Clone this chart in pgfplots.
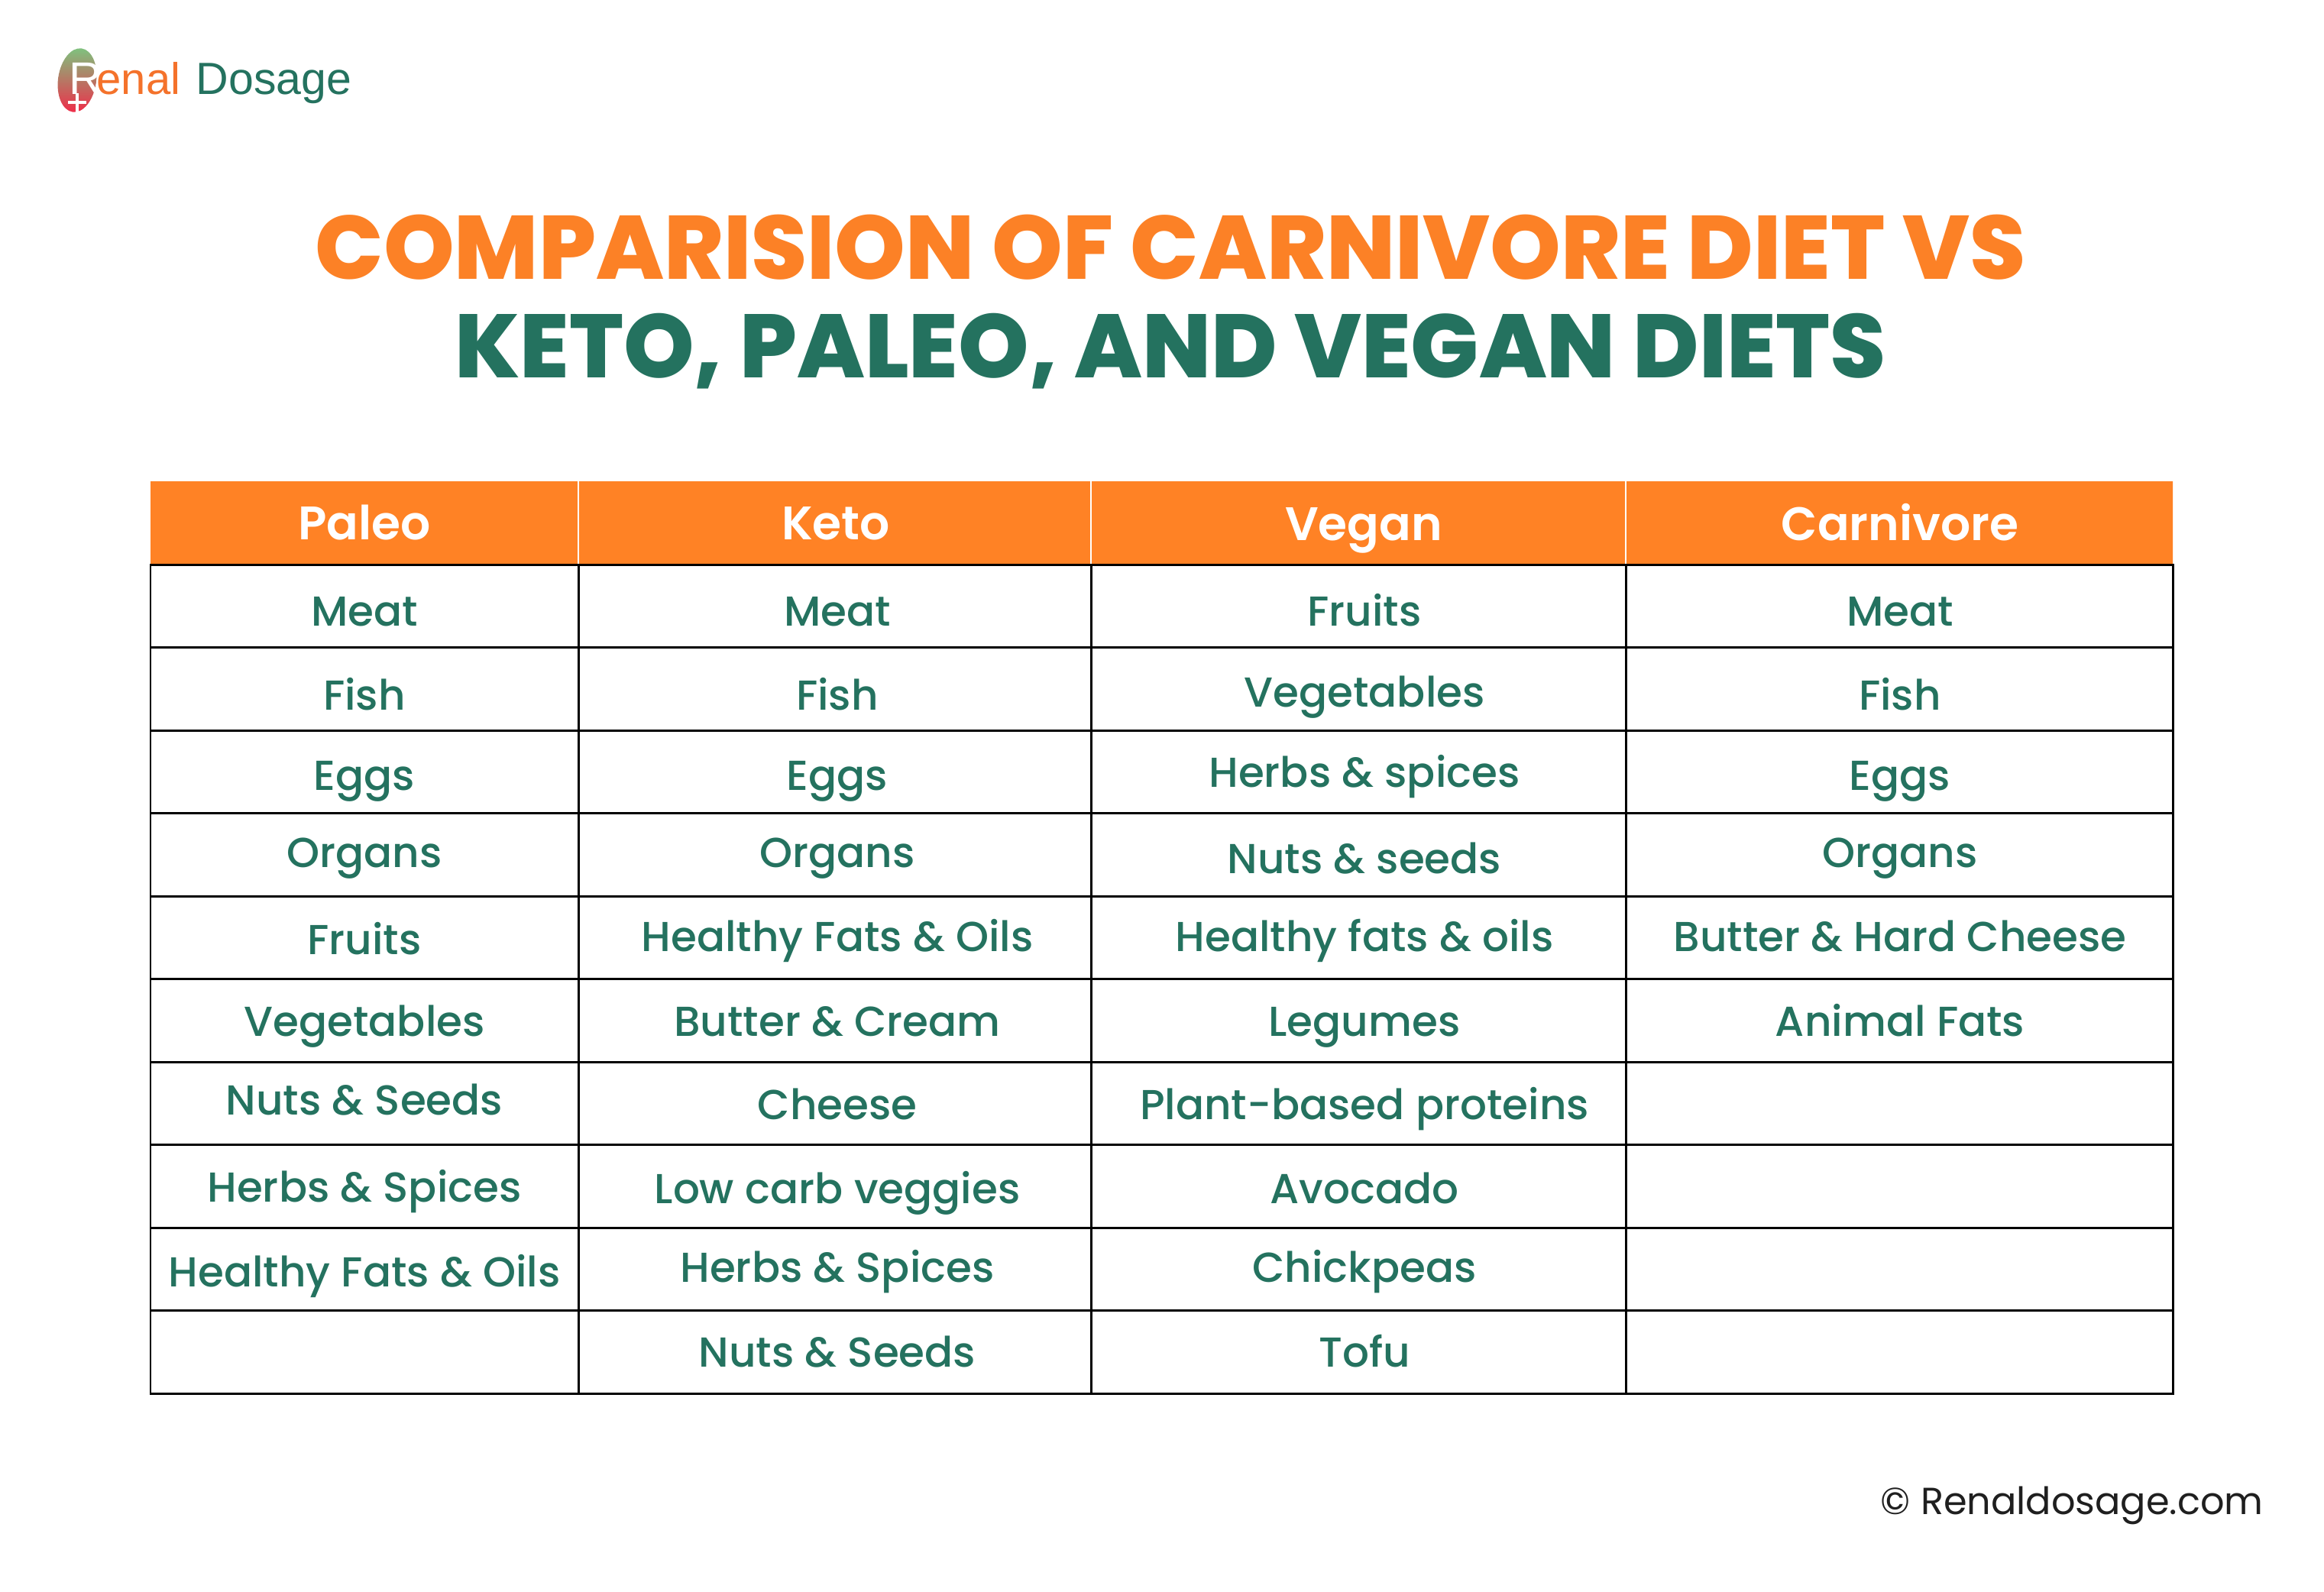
\documentclass[border=0pt]{standalone}
\usepackage{pgfplots}
\pgfplotsset{compat=1.18}
\usepackage{fontspec}
\setmainfont{Poppins}
\newfontfamily\bodyfont{Poppins Medium}
\newfontfamily\headfont{Poppins SemiBold}
\newfontfamily\titlefont{Poppins ExtraBold}
\newfontfamily\logofont{Liberation Sans}
\definecolor{dgreen}{HTML}{24725F}
\definecolor{dorange}{HTML}{FF8225}
\definecolor{torange}{HTML}{FC8126}
\definecolor{lgreen}{HTML}{7DC47F}
\definecolor{lorange}{HTML}{F7901E}
\definecolor{lred}{HTML}{EE2E4A}
\begin{document}
\begin{tikzpicture}
\begin{axis}[width=30.42cm,height=20.84cm,scale only axis,
  xmin=0,xmax=3042,ymin=0,ymax=2084,y dir=reverse,
  hide axis, clip=false, unbounded coords=jump]
\fill[white] (rel axis cs:0,0) rectangle (rel axis cs:1,1);
% header band
\addplot[fill=dorange, draw=none, mark=none] coordinates {(197,630)(2844,630)(2844,739)(197,739)(197,630)};
\addplot[white, line width=0.6pt, mark=none] coordinates {(757,630)(757,739) (nan,nan) (1428,630)(1428,739) (nan,nan) (2128,630)(2128,739)};
% grid
\addplot[black, line width=0.85pt, line cap=rect, mark=none] coordinates {
(197,739)(2844,739) (nan,nan)
(197,847.5)(2844,847.5) (nan,nan)
(197,956)(2844,956) (nan,nan)
(197,1064.5)(2844,1064.5) (nan,nan)
(197,1173)(2844,1173) (nan,nan)
(197,1281.5)(2844,1281.5) (nan,nan)
(197,1390)(2844,1390) (nan,nan)
(197,1498.5)(2844,1498.5) (nan,nan)
(197,1607)(2844,1607) (nan,nan)
(197,1715.5)(2844,1715.5) (nan,nan)
(197,1824)(2844,1824) (nan,nan)
(197,739)(197,1824) (nan,nan)
(757,739)(757,1824) (nan,nan)
(1428,739)(1428,1824) (nan,nan)
(2128,739)(2128,1824) (nan,nan)
(2844,739)(2844,1824)};
% header labels
\addplot[draw=none, mark=none, point meta=explicit symbolic, nodes near coords,
  every node near coord/.append style={anchor=base, inner sep=0pt, text=white, font=\headfont\fontsize{17.5pt}{21pt}\selectfont}]
  coordinates {(477,706) [Paleo] (1094,706) [Keto] (1785,707) [Vegan] (2487,707) [Carnivore]};
% body cells
\addplot[draw=none, mark=none, point meta=explicit symbolic, nodes near coords,
  every node near coord/.append style={anchor=base, inner sep=0pt, text=dgreen, font=\bodyfont\fontsize{15.6pt}{18pt}\selectfont}]
  coordinates {
  (477,819) [Meat] (1096,819) [Meat] (1786,819) [Fruits] (2487,819) [Meat]
  (477,929) [Fish] (1096,929) [Fish] (1786,925) [Vegetables] (2487,929) [Fish]
  (477,1034) [Eggs] (1096,1034) [Eggs] (1786,1030) [Herbs \& spices] (2487,1034) [Eggs]
  (477,1135) [Organs] (1096,1135) [Organs] (1786,1143) [Nuts \& seeds] (2487,1135) [Organs]
  (477,1249) [Fruits] (1096,1245) [Healthy Fats \& Oils] (1786,1245) [Healthy fats \& oils] (2487,1245) [Butter \& Hard Cheese]
  (477,1356) [Vegetables] (1096,1356) [Butter \& Cream] (1786,1356) [Legumes] (2487,1356) [Animal Fats]
  (477,1459) [Nuts \& Seeds] (1096,1465) [Cheese] (1786,1465) [Plant-based proteins]
  (477,1573) [Herbs \& Spices] (1096,1575) [Low carb veggies] (1786,1575) [Avocado]
  (477,1684) [Healthy Fats \& Oils] (1096,1678) [Herbs \& Spices] (1786,1678) [Chickpeas]
  (1096,1789) [Nuts \& Seeds] (1786,1789) [Tofu]
  };
% title
\node[anchor=base, inner sep=0pt, text=torange, font=\titlefont\fontsize{33.55pt}{40pt}\selectfont] at (axis cs:1532,365) {COMPARISION OF CARNIVORE DIET VS};
\node[anchor=base, inner sep=0pt, text=dgreen, font=\titlefont\fontsize{33.5pt}{40pt}\selectfont] at (axis cs:1532,494) {KETO, PALEO, AND VEGAN DIETS};
% logo
\shade[top color=lgreen, middle color=lorange, bottom color=lred, rotate around={-8:(axis cs:101,105)}] (axis cs:101,105) ellipse [x radius=2.5mm, y radius=4.2mm];
\node[anchor=base west, inner sep=0pt, text=white, font=\logofont\fontsize{17pt}{20pt}\selectfont] at (axis cs:90,123) {R};
\draw[white, line width=1.1pt] (axis cs:89,134)--(axis cs:113,134) (axis cs:101,122)--(axis cs:101,147);
\node[anchor=base west, inner sep=0pt, text=lorange!70!lred, font=\logofont\fontsize{16.5pt}{20pt}\selectfont] at (axis cs:126,123) {enal};
\node[anchor=base west, inner sep=0pt, text=dgreen, font=\logofont\fontsize{16.8pt}{20pt}\selectfont] at (axis cs:256,123) {Dosage};
% footer
\node[anchor=base west, inner sep=0pt, text=black!88, font=\fontsize{14.05pt}{17pt}\selectfont] at (axis cs:2461,1982) {© Renaldosage.com};
\end{axis}
\end{tikzpicture}
\end{document}
